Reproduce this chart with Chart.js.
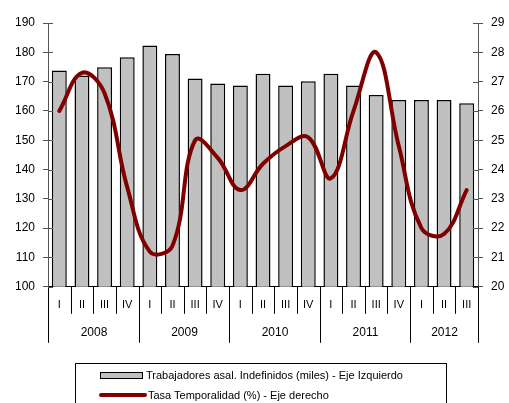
<!DOCTYPE html>
<html>
<head>
<meta charset="utf-8">
<script src="https://cdn.jsdelivr.net/npm/chart.js@4"></script>
<style>
    body { margin: 0; background: #fff; }
    #wrap { position: relative; width: 509px; height: 403px; }
    #legend {
        position: absolute; left: 75px; top: 363px; width: 372px; height: 50px;
        border: 1px solid #000; box-sizing: border-box;
        font-family: "Liberation Sans", Arial, sans-serif; font-size: 11px; color: #000;
    }
    .row { position: absolute; left: 24px; display: flex; align-items: center; white-space: nowrap; }
    .sw-bar { width: 41px; height: 5px; background: #c0c0c0; border: 1px solid #000; margin-right: 3px; }
    .sw-line { width: 48px; height: 4px; background: #800000; border-radius: 2px; margin-right: 1px; }
</style>
</head>
<body>
<div id="wrap">
    <canvas id="chart" width="509" height="403"></canvas>
    <div id="legend">
        <div class="row" style="top:5px"><span class="sw-bar"></span><span id="lab0"></span></div>
        <div class="row" style="top:25px; left:23px"><span class="sw-line"></span><span id="lab1"></span></div>
    </div>
</div>
<script>
// Trimestres y años
const quarters = ["I", "II", "III", "IV", "I", "II", "III", "IV", "I", "II", "III", "IV",
                  "I", "II", "III", "IV", "I", "II", "III"];
const years = ["2008", "2009", "2010", "2011", "2012"];
const yearStart = [0, 4, 8, 12, 16, 19];

// Series
const seriesNames = ["Trabajadores asal. Indefinidos (miles) - Eje Izquierdo",
                     "Tasa Temporalidad (%) - Eje derecho"];
const indefinidos = [173.8, 172.1, 174.9, 178.3, 182.3, 179.4, 171.1, 169.4, 168.7, 172.7,
                     168.7, 170.1, 172.7, 168.7, 165.4, 163.7, 163.7, 163.7, 162.6];
const temporalidad = [26.0, 27.3, 26.6, 23.4, 21.2, 21.4, 25.0, 24.4, 23.3, 24.2,
                      24.8, 25.1, 23.7, 26.0, 28.0, 24.8, 22.0, 21.8, 23.3];

// Ejes
const leftMin = 100, leftMax = 190, leftStep = 10;
const rightMin = 20, rightMax = 29, rightStep = 1;

document.getElementById('lab0').textContent = seriesNames[0];
document.getElementById('lab1').textContent = seriesNames[1];

const font = "Liberation Sans, Arial, sans-serif";

// separadores del eje X, años y marcas interiores de los ejes Y
const extrasPlugin = {
    id: 'extras',
    afterDraw(chart) {
        const ctx = chart.ctx;
        const x = chart.scales.x;
        const yl = chart.scales.y;
        const yr = chart.scales.y1;
        const bottom = chart.chartArea.bottom;
        const half = (x.getPixelForValue(1) - x.getPixelForValue(0)) / 2;
        const edge = i => Math.round(x.getPixelForValue(i) - half) + 0.5;

        ctx.save();
        ctx.strokeStyle = '#000';
        ctx.lineWidth = 1;
        for (let i = 0; i <= quarters.length; i++) {
            const isYear = yearStart.includes(i);
            ctx.beginPath();
            ctx.moveTo(edge(i), bottom);
            ctx.lineTo(edge(i), bottom + (isYear ? 56 : 27));
            ctx.stroke();
        }

        ctx.fillStyle = '#000';
        ctx.font = '12px ' + font;
        ctx.textAlign = 'center';
        ctx.textBaseline = 'middle';
        for (let j = 0; j < years.length; j++) {
            const cx = (edge(yearStart[j]) + edge(yearStart[j + 1])) / 2;
            ctx.fillText(years[j], cx, bottom + 46);
        }

        // marcas hacia dentro
        ctx.strokeStyle = '#555';
        yl.ticks.forEach((t, i) => {
            const py = Math.round(yl.getPixelForTick(i)) + 0.5;
            ctx.beginPath();
            ctx.moveTo(yl.right, py);
            ctx.lineTo(yl.right + 5, py);
            ctx.stroke();
        });
        yr.ticks.forEach((t, i) => {
            const py = Math.round(yr.getPixelForTick(i)) + 0.5;
            ctx.beginPath();
            ctx.moveTo(yr.left - 5, py);
            ctx.lineTo(yr.left, py);
            ctx.stroke();
        });
        ctx.restore();
    }
};

const chart = new Chart(document.getElementById('chart'), {
    data: {
        labels: quarters,
        datasets: [{
            type: 'line',
            label: seriesNames[1],
            data: temporalidad,
            yAxisID: 'y1',
            borderColor: '#800000',
            borderWidth: 4,
            tension: 0.4,
            pointRadius: 0,
            borderCapStyle: 'round',
            borderJoinStyle: 'round',
            order: 0
        }, {
            type: 'bar',
            label: seriesNames[0],
            data: indefinidos,
            yAxisID: 'y',
            backgroundColor: '#c0c0c0',
            borderColor: '#000',
            borderWidth: 1.5,
            categoryPercentage: 1,
            barPercentage: 0.66,
            order: 1
        }]
    },
    options: {
        responsive: false,
        animation: false,
        layout: { padding: { left: 0, right: 0, top: 23, bottom: 87 } },
        plugins: {
            legend: { display: false },
            tooltip: { enabled: false }
        },
        scales: {
            x: {
                grid: { display: false },
                border: { color: '#000', width: 1 },
                ticks: { color: '#000', font: { family: font, size: 11 }, padding: 4, maxRotation: 0 }
            },
            y: {
                position: 'left',
                min: leftMin, max: leftMax,
                afterFit: s => { s.width = 48; },
                grid: { drawOnChartArea: false, tickLength: 5, color: '#555' },
                border: { color: '#555', width: 1 },
                ticks: { stepSize: leftStep, color: '#000', font: { family: font, size: 12 }, padding: 8 }
            },
            y1: {
                position: 'right',
                min: rightMin, max: rightMax,
                afterFit: s => { s.width = 31; },
                grid: { drawOnChartArea: false, tickLength: 5, color: '#555' },
                border: { color: '#555', width: 1 },
                ticks: { stepSize: rightStep, color: '#000', font: { family: font, size: 12 }, padding: 8 }
            }
        }
    },
    plugins: [extrasPlugin]
});
</script>
</body>
</html>
